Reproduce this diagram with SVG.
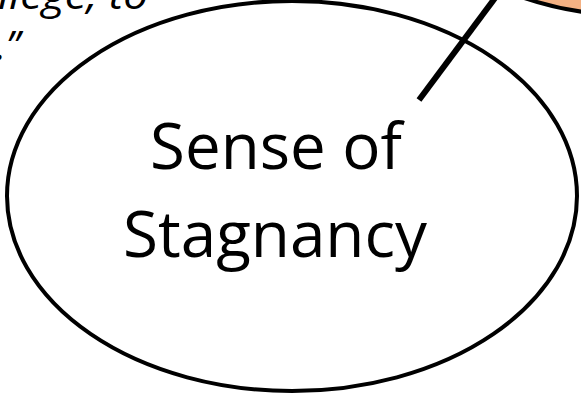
<svg xmlns="http://www.w3.org/2000/svg" width="581" height="397" viewBox="0 0 581 397">
  <style>
    .label { font-family: "Open Sans", Lato, "Liberation Sans", sans-serif; font-size: 64px; fill: #000; }
    .quote { font-family: "Open Sans", Lato, "Liberation Sans", sans-serif; font-size: 40px; font-style: italic; fill: #000; }
    .outline { fill: #fff; stroke: #000; stroke-width: 4; }
  </style>
  <rect width="581" height="397" fill="#fff"/>
  <g id="quote-text">
    <text class="quote" x="148" y="9" text-anchor="end" textLength="150" lengthAdjust="spacingAndGlyphs">llege, to</text>
    <text class="quote" x="-4" y="60">.”</text>
  </g>
  <g id="orange-node">
    <path d="M 498,-12 Q 545,8 592,13 L 592,-12 Z" fill="#F4B183" stroke="#000" stroke-width="4"/>
  </g>
  <g id="stagnancy-node">
    <ellipse class="outline" cx="292" cy="196" rx="285" ry="195"/>
    <text class="label" x="150" y="169" textLength="252" lengthAdjust="spacingAndGlyphs">Sense of</text>
    <text class="label" x="123" y="257" textLength="304" lengthAdjust="spacingAndGlyphs">Stagnancy</text>
  </g>
  <g id="connectors">
    <line x1="419" y1="100" x2="498" y2="-6" stroke="#000" stroke-width="6"/>
  </g>
</svg>
